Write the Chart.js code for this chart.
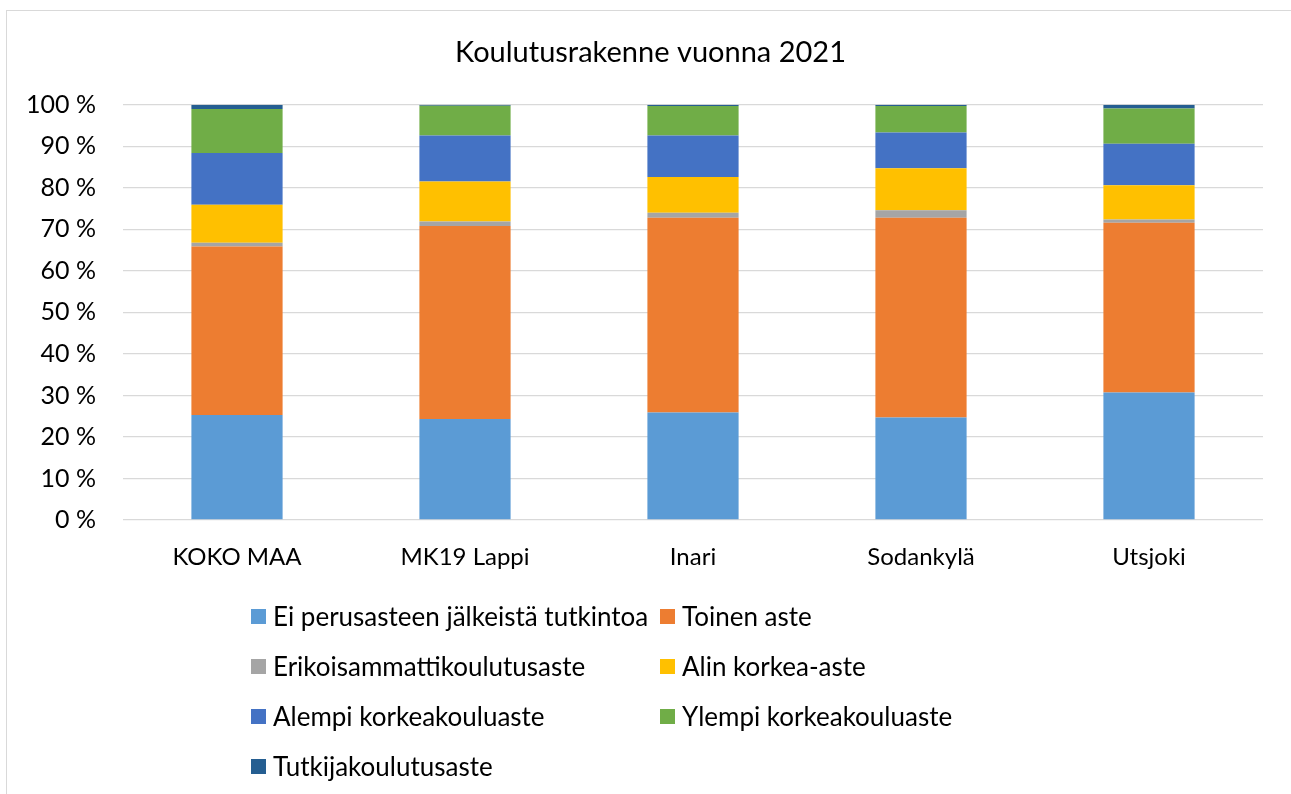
<!DOCTYPE html>
<html>
<head>
<meta charset="utf-8">
<script src="https://cdn.jsdelivr.net/npm/chart.js@4.4.1/dist/chart.umd.min.js"></script>
<style>
  html, body { margin:0; padding:0; background:#fff; }
  #wrap { position:relative; width:1291px; height:794px; overflow:hidden; }
  #frame { position:absolute; left:6px; top:10px; width:1400px; height:900px; border-left:1.5px solid #d9d9d9; border-top:1.5px solid #d9d9d9; }
  canvas { position:absolute; left:0; top:0; }
  #legend { position:absolute; left:251px; top:601px; width:900px; font-family:Lato, sans-serif; font-size:26px; color:#000; }
  .item { position:absolute; display:flex; align-items:center; white-space:nowrap; height:30px; }
  .box { width:15px; height:15px; margin-right:7px; }
</style>
</head>
<body>
<div id="wrap">
  <div id="frame"></div>
  <canvas id="koulutusChart" width="1291" height="794"></canvas>
  <div id="legend"></div>
</div>
<script>
// alueet
const alueet = ['KOKO MAA', 'MK19 Lappi', 'Inari', 'Sodankylä', 'Utsjoki'];
// osuudet prosentteina (luettu kuvasta)
const eiPerusasteenJalkeista = [25.3, 24.3, 25.9, 24.7, 30.7];
const toinenAste            = [40.6, 46.5, 46.9, 48.1, 40.9];
const erikoisammatti        = [0.9, 1.1, 1.2, 1.8, 0.8];
const alinKorkea            = [9.1, 9.6, 8.6, 10.1, 8.2];
const alempiKorkeakoulu     = [12.5, 11.1, 10.0, 8.6, 10.0];
const ylempiKorkeakoulu     = [10.6, 7.2, 7.1, 6.4, 8.5];
const tutkijakoulutus       = [1.0, 0.2, 0.3, 0.3, 0.9];
const yTicks = [0, 10, 20, 30, 40, 50, 60, 70, 80, 90, 100];

const sarjat = [
  { label:'Ei perusasteen jälkeistä tutkintoa', data:eiPerusasteenJalkeista, color:'#5b9bd5' },
  { label:'Toinen aste', data:toinenAste, color:'#ed7d31' },
  { label:'Erikoisammattikoulutusaste', data:erikoisammatti, color:'#a5a5a5' },
  { label:'Alin korkea-aste', data:alinKorkea, color:'#ffc000' },
  { label:'Alempi korkeakouluaste', data:alempiKorkeakoulu, color:'#4472c4' },
  { label:'Ylempi korkeakouluaste', data:ylempiKorkeakoulu, color:'#70ad47' },
  { label:'Tutkijakoulutusaste', data:tutkijakoulutus, color:'#255e91' }
];

const fontFam = 'Lato, sans-serif';
const ctx = document.getElementById('koulutusChart').getContext('2d');

// otsikko hieman oikealle kuten alkuperäisessä
const titleShift = {
  id: 'titleShift',
  afterLayout(c) { if (c.titleBlock) c.titleBlock.left = 38; }
};

const chart = new Chart(ctx, {
  type: 'bar',
  data: {
    labels: alueet,
    datasets: sarjat.map(s => ({
      label: s.label,
      data: s.data,
      backgroundColor: s.color,
      borderWidth: 0,
      categoryPercentage: 1,
      barPercentage: 0.4
    }))
  },
  options: {
    responsive: false,
    animation: false,
    layout: { padding: { left: 10, right: 28, top: 0, bottom: 214 } },
    plugins: {
      legend: { display: false },
      tooltip: { enabled: false },
      title: {
        display: true,
        text: 'Koulutusrakenne vuonna 2021',
        color: '#000',
        font: { family: fontFam, size: 29, weight: 'normal' },
        padding: { top: 35, bottom: 35 }
      }
    },
    scales: {
      x: {
        stacked: true,
        afterFit: function(scale) { scale.height = 60; },
        grid: { display: false, drawTicks: false },
        border: { display: false },
        ticks: { color: '#000', font: { family: fontFam, size: 24 }, padding: 23 }
      },
      y: {
        stacked: true,
        min: 0,
        max: 100,
        afterFit: function(scale) { scale.width = 113; },
        afterBuildTicks: function(scale) { scale.ticks = yTicks.map(v => ({ value: v })); },
        grid: { color: '#d9d9d9', lineWidth: 1.3, drawTicks: false },
        border: { display: false },
        ticks: {
          color: '#000',
          font: { family: fontFam, size: 25 },
          padding: 27,
          callback: v => v + ' %'
        }
      }
    }
  },
  plugins: [titleShift]
});

// selite kahteen sarakkeeseen
const legendEl = document.getElementById('legend');
chart.data.datasets.forEach((ds, i) => {
  const it = document.createElement('div');
  it.className = 'item';
  it.style.left = (i % 2 === 0 ? 0 : 409) + 'px';
  it.style.top = (Math.floor(i / 2) * 50) + 'px';
  const b = document.createElement('span');
  b.className = 'box';
  b.style.background = ds.backgroundColor;
  const t = document.createElement('span');
  t.textContent = ds.label;
  it.appendChild(b);
  it.appendChild(t);
  legendEl.appendChild(it);
});
</script>
</body>
</html>
